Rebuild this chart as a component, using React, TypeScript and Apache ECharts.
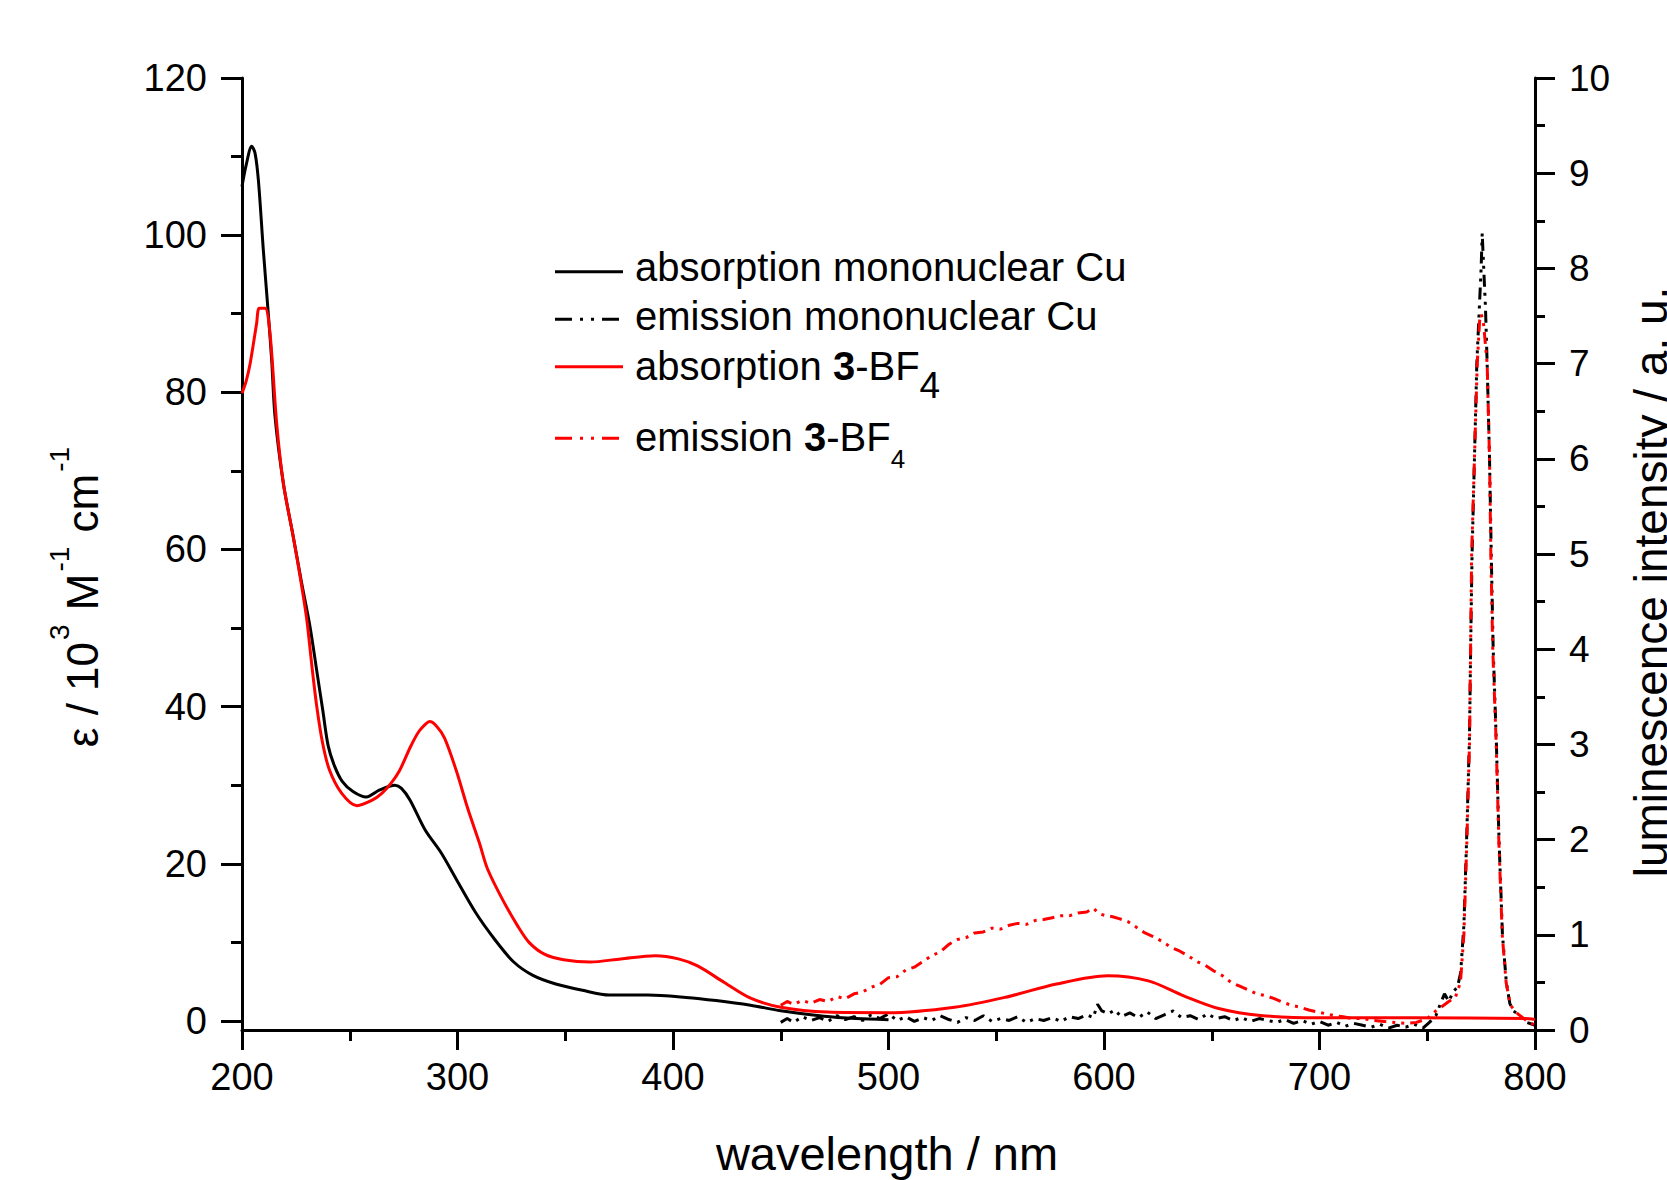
import React, { useEffect, useRef } from "react";
import * as echarts from "echarts";

const FONT = '"Liberation Sans", Arial, Helvetica, sans-serif';

// ---------- data ----------
const leftMajorTicks = [0, 20, 40, 60, 80, 100, 120];
const leftMinorTicks = [10, 30, 50, 70, 90, 110];

const legendLabels = [
  "absorption mononuclear Cu",
  "emission mononuclear Cu",
  "absorption 3-BF4",
  "emission 3-BF4",
];

// absorption mononuclear Cu (left axis)
const absCuWl = [200, 202, 204.5, 206, 207.6, 209.9, 212.2, 213.8, 215.3, 219.2, 223.8, 227.7, 231.6, 235, 237.5, 240, 243, 246.5, 251.5, 257.7, 263.9, 271, 274, 278, 285, 292.4, 299.5, 308.4, 317.2, 326.1, 335, 345.6, 358, 370.5, 388.3, 406, 420, 436, 450, 470, 485, 500];
const absCuEps = [106.2, 109.0, 111.3, 110.5, 107.0, 98.1, 90.0, 84.0, 77.0, 68.4, 61.6, 55.7, 50.1, 44.0, 39.5, 35.0, 32.4, 30.5, 29.2, 28.5, 29.4, 30.0, 29.6, 28.1, 24.3, 21.4, 18.0, 13.8, 10.4, 7.5, 5.8, 4.7, 3.9, 3.3, 3.3, 3.0, 2.6, 2.0, 1.3, 0.6, 0.3, 0.15];

// absorption 3-BF4 (left axis)
const absBfWl = [200, 202, 203.8, 206.8, 208, 210.7, 213, 216.1, 219.2, 223.8, 227, 230.1, 232.5, 234.7, 237.3, 240.5, 246.2, 253.3, 260.4, 265, 269.3, 273, 278.2, 282, 285.3, 287, 290, 294, 299.5, 304.8, 310.1, 314, 320.8, 327.9, 333.2, 340.3, 349.2, 361.6, 375.8, 391.8, 402.5, 411.4, 423.8, 436, 450, 471.6, 500, 530.7, 554, 578, 601.6, 620.6, 637, 653.7, 672.6, 700, 743.5, 795.5, 800];
const absBfEps = [79.9, 81.5, 83.7, 88.8, 90.7, 90.7, 87.5, 76.0, 68.4, 61.6, 56.5, 51.0, 45.0, 40.0, 35.5, 32.0, 29.0, 27.4, 28.1, 29.0, 30.3, 31.8, 34.9, 36.8, 37.8, 38.1, 37.6, 36.0, 31.8, 27.0, 22.7, 19.3, 15.5, 12.1, 10.0, 8.5, 7.8, 7.5, 7.9, 8.3, 7.9, 7.0, 4.9, 2.9, 1.75, 1.13, 1.05, 1.75, 3.0, 4.7, 5.75, 5.1, 3.2, 1.55, 0.71, 0.42, 0.42, 0.3, 0.2];

// emission mononuclear Cu (right axis)
const emCuWl = [450, 453, 456, 460, 464, 468, 472, 476, 480, 484, 488, 492, 496, 500, 504, 508, 512, 516, 520, 524, 528, 532, 536, 540, 544, 548, 552, 556, 560, 564, 568, 572, 576, 580, 584, 588, 592, 595, 597, 599, 602, 605, 608, 612, 616, 620, 624, 628, 632, 636, 640, 644, 648, 652, 656, 660, 664, 668, 672, 676, 680, 684, 688, 692, 696, 700, 704, 708, 712, 716, 720, 724, 728, 732, 736, 740, 744, 748, 751, 754, 756, 758, 760, 762, 764, 765.5, 767, 768.4, 769.6, 770.2, 770.8, 771.9, 773, 774.2, 775, 775.5, 776.2, 777, 777.8, 778.9, 779.7, 780.6, 782.1, 783.3, 784.9, 786.7, 788.3, 790, 793, 796, 800];
const emCuInt = [0.08, 0.12, 0.08, 0.14, 0.1, 0.13, 0.09, 0.15, 0.11, 0.14, 0.1, 0.16, 0.12, 0.17, 0.1, 0.14, 0.09, 0.13, 0.1, 0.15, 0.11, 0.08, 0.13, 0.1, 0.15, 0.09, 0.12, 0.1, 0.14, 0.08, 0.12, 0.1, 0.13, 0.09, 0.14, 0.12, 0.16, 0.13, 0.27, 0.2, 0.17, 0.21, 0.14, 0.18, 0.13, 0.19, 0.12, 0.16, 0.2, 0.13, 0.15, 0.11, 0.17, 0.12, 0.14, 0.1, 0.13, 0.09, 0.12, 0.1, 0.08, 0.11, 0.07, 0.1, 0.06, 0.09, 0.05, 0.08, 0.04, 0.07, 0.05, 0.03, 0.06, 0.02, 0.05, 0.03, 0.06, 0.02, 0.08, 0.15, 0.27, 0.38, 0.3, 0.4, 0.45, 0.6, 1.1, 2.1, 3.1, 4.1, 5.0, 6.0, 7.0, 7.6, 8.0, 8.37, 8.0, 7.6, 7.0, 6.0, 5.0, 4.0, 3.0, 2.0, 1.0, 0.5, 0.28, 0.2, 0.15, 0.08, 0.05];

// emission 3-BF4 (right axis)
const emBfWl = [450, 453, 456, 460, 464, 468, 472, 476, 480, 484, 488, 492, 496, 500, 504, 508, 512, 516, 520, 524, 528, 532, 536, 540, 544, 548, 552, 556, 560, 564, 568, 572, 576, 580, 584, 588, 592, 595, 598, 601, 604, 607, 611, 615, 619, 623, 627, 631, 635, 639, 643, 647, 651, 655, 659, 663, 667, 671, 675, 679, 683, 687, 691, 695, 699, 703, 707, 711, 715, 720, 725, 730, 735, 740, 745, 750, 754, 757, 760, 763, 765.4, 767, 768.4, 769.6, 770.1, 770.6, 771.9, 773.2, 774.3, 775, 776, 777.8, 778.9, 779.5, 780.4, 782, 783.2, 784.8, 786.6, 788.6, 792, 796.6, 800];
const emBfInt = [0.26, 0.3, 0.27, 0.31, 0.28, 0.32, 0.3, 0.35, 0.33, 0.38, 0.4, 0.45, 0.48, 0.55, 0.56, 0.63, 0.66, 0.72, 0.78, 0.82, 0.9, 0.95, 0.97, 1.02, 1.03, 1.07, 1.06, 1.1, 1.12, 1.11, 1.15, 1.16, 1.18, 1.2, 1.2, 1.23, 1.24, 1.28, 1.22, 1.2, 1.19, 1.17, 1.14, 1.08, 1.02, 0.98, 0.93, 0.87, 0.83, 0.78, 0.72, 0.68, 0.62, 0.57, 0.5, 0.46, 0.42, 0.38, 0.36, 0.33, 0.29, 0.26, 0.24, 0.21, 0.19, 0.17, 0.15, 0.14, 0.12, 0.12, 0.1, 0.09, 0.08, 0.07, 0.08, 0.12, 0.2, 0.25, 0.3, 0.34, 0.5, 1.0, 2.0, 3.0, 4.0, 5.0, 6.0, 7.0, 7.45, 7.52, 7.45, 7.0, 6.0, 5.0, 4.0, 3.0, 2.0, 1.0, 0.5, 0.26, 0.17, 0.09, 0.05];

const zip = (xs: number[], ys: number[]) => xs.map((x, i) => [x, ys[i]]);

const SERIES_DASH = [12, 6, 3, 6, 3, 6];
const LEGEND_DASH = [17, 8, 3, 8, 3, 8];

export default function App() {
  const ref = useRef<HTMLDivElement>(null);

  useEffect(() => {
    document.body.style.margin = "0";
    if (!ref.current) return;
    const chart = echarts.init(ref.current, undefined, { renderer: "svg" });

    const axisLineStyle = { color: "#000", width: 3 };
    const labelStyle = { fontSize: 38, fontFamily: FONT, color: "#000" };

    const option: any = {
      animation: false,
      backgroundColor: "#fff",
      grid: { left: 242, right: 132, top: 78, bottom: 150, containLabel: false },
      xAxis: {
        type: "value",
        min: 200,
        max: 800,
        interval: 100,
        axisLine: { show: true, onZero: false, lineStyle: axisLineStyle },
        axisTick: { show: true, length: 20, lineStyle: axisLineStyle },
        minorTick: { show: true, splitNumber: 2, length: 11, lineStyle: axisLineStyle },
        axisLabel: { ...labelStyle, margin: 28 },
        splitLine: { show: false },
        minorSplitLine: { show: false },
      },
      yAxis: [
        {
          type: "value",
          position: "left",
          min: -1.15,
          max: 120,
          axisLine: { show: true, onZero: false, lineStyle: axisLineStyle },
          axisTick: { show: true, length: 21, customValues: leftMajorTicks, lineStyle: axisLineStyle },
          axisLabel: { ...labelStyle, margin: 35, customValues: leftMajorTicks },
          splitLine: { show: false },
        },
        {
          type: "value",
          position: "left",
          min: -1.15,
          max: 120,
          axisLine: { show: false, onZero: false },
          axisTick: { show: true, length: 11, customValues: leftMinorTicks, lineStyle: axisLineStyle },
          axisLabel: { show: false },
          splitLine: { show: false },
        },
        {
          type: "value",
          position: "right",
          min: 0,
          max: 10,
          interval: 1,
          axisLine: { show: true, onZero: false, lineStyle: axisLineStyle },
          axisTick: { show: true, length: 20, lineStyle: axisLineStyle },
          minorTick: { show: true, splitNumber: 2, length: 10, lineStyle: axisLineStyle },
          axisLabel: { ...labelStyle, fontSize: 37, margin: 34 },
          splitLine: { show: false },
          minorSplitLine: { show: false },
        },
      ],
      series: [
        {
          name: legendLabels[0],
          type: "line",
          yAxisIndex: 0,
          data: zip(absCuWl, absCuEps),
          showSymbol: false,
          smooth: 0.3,
          lineStyle: { color: "#000", width: 3 },
        },
        {
          name: legendLabels[1],
          type: "line",
          yAxisIndex: 2,
          data: zip(emCuWl, emCuInt),
          showSymbol: false,
          lineStyle: { color: "#000", width: 3, type: SERIES_DASH },
        },
        {
          name: legendLabels[2],
          type: "line",
          yAxisIndex: 0,
          data: zip(absBfWl, absBfEps),
          showSymbol: false,
          smooth: 0.3,
          lineStyle: { color: "#ff0000", width: 3 },
        },
        {
          name: legendLabels[3],
          type: "line",
          yAxisIndex: 2,
          data: zip(emBfWl, emBfInt),
          showSymbol: false,
          lineStyle: { color: "#ff0000", width: 3, type: SERIES_DASH },
        },
      ],
      graphic: [
        // legend samples
        { type: "line", shape: { x1: 555, y1: 271.7, x2: 623, y2: 271.7 }, style: { stroke: "#000", lineWidth: 3 } },
        { type: "line", shape: { x1: 555, y1: 319.3, x2: 623, y2: 319.3 }, style: { stroke: "#000", lineWidth: 3, lineDash: LEGEND_DASH } },
        { type: "line", shape: { x1: 555, y1: 366.7, x2: 623, y2: 366.7 }, style: { stroke: "#ff0000", lineWidth: 3 } },
        { type: "line", shape: { x1: 555, y1: 438.3, x2: 623, y2: 438.3 }, style: { stroke: "#ff0000", lineWidth: 3, lineDash: LEGEND_DASH } },
        // legend texts
        {
          type: "text", x: 635, y: 267,
          style: { text: legendLabels[0], fontSize: 40, fontFamily: FONT, fill: "#000", align: "left", verticalAlign: "middle" },
        },
        {
          type: "text", x: 635, y: 316,
          style: { text: legendLabels[1], fontSize: 40, fontFamily: FONT, fill: "#000", align: "left", verticalAlign: "middle" },
        },
        {
          type: "text", x: 635, y: 366,
          style: {
            text: "{n|absorption }{b|3}{n|-BF}{s|4}",
            fill: "#000", align: "left", verticalAlign: "middle",
            rich: {
              n: { fontSize: 40, fontFamily: FONT, lineHeight: 40, fill: "#000" },
              b: { fontSize: 40, fontFamily: FONT, fontWeight: "bold", lineHeight: 40, fill: "#000" },
              s: { fontSize: 37, fontFamily: FONT, lineHeight: 37, padding: [38, 0, 0, 0], fill: "#000" },
            },
          },
        },
        {
          type: "text", x: 635, y: 437,
          style: {
            text: "{n|emission }{b|3}{n|-BF}{s|4}",
            fill: "#000", align: "left", verticalAlign: "middle",
            rich: {
              n: { fontSize: 40, fontFamily: FONT, lineHeight: 40, fill: "#000" },
              b: { fontSize: 40, fontFamily: FONT, fontWeight: "bold", lineHeight: 40, fill: "#000" },
              s: { fontSize: 26, fontFamily: FONT, lineHeight: 26, padding: [44, 0, 0, 0], fill: "#000" },
            },
          },
        },
        // axis titles
        {
          type: "text", x: 887, y: 1153,
          style: { text: "wavelength / nm", fontSize: 47, fontFamily: FONT, fill: "#000", align: "center", verticalAlign: "middle" },
        },
        {
          type: "text", x: 82, y: 596, rotation: Math.PI / 2,
          style: {
            text: "{n|ε / 10}{p|3}{n| M}{p|-1}{n| cm}{p|-1}",
            fill: "#000", align: "center", verticalAlign: "middle",
            rich: {
              n: { fontSize: 44, fontFamily: FONT, lineHeight: 44, fill: "#000" },
              p: { fontSize: 28, fontFamily: FONT, lineHeight: 28, padding: [0, 2, 46, 2], fill: "#000" },
            },
          },
        },
        {
          type: "text", x: 1651, y: 582, rotation: Math.PI / 2,
          style: { text: "luminescence intensity / a. u.", fontSize: 46, fontFamily: FONT, fill: "#000", align: "center", verticalAlign: "middle" },
        },
      ],
    };

    chart.setOption(option);
    return () => chart.dispose();
  }, []);

  return <div ref={ref} style={{ width: 1667, height: 1180 }} />;
}
